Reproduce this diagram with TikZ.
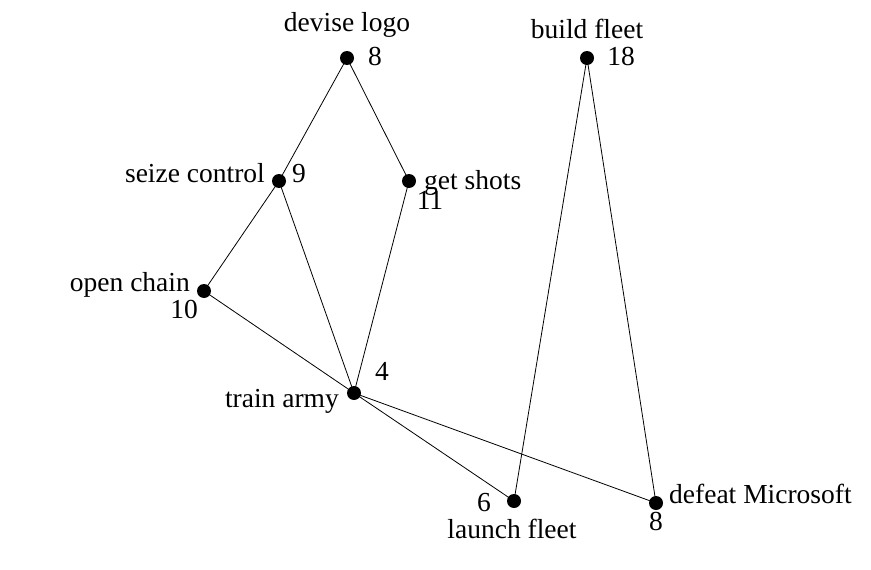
\documentclass[tikz,border=0pt]{standalone}
\usepackage{fontspec}
\setmainfont{Liberation Serif}
\begin{document}
\begin{tikzpicture}[x=1pt,y=-1pt,
  dot/.style={circle,fill=black,inner sep=0pt,minimum size=14pt},
  lbl/.style={inner sep=0pt,font=\fontsize{27.5}{30}\selectfont},
  edge/.style={draw=black,line width=0.8pt}]
\useasboundingbox (0,0) rectangle (871,570);
% dots
\node[dot] (dl) at (347,58) {};
\node[dot] (bf) at (587,58) {};
\node[dot] (sc) at (279,181) {};
\node[dot] (gs) at (409,181) {};
\node[dot] (oc) at (204,291) {};
\node[dot] (ta) at (354,393) {};
\node[dot] (lf) at (514,501) {};
\node[dot] (dm) at (656,503) {};
% edges
\draw[edge] (dl.center) -- (sc.center);
\draw[edge] (dl.center) -- (gs.center);
\draw[edge] (sc.center) -- (oc.center);
\draw[edge] (sc.center) -- (ta.center);
\draw[edge] (gs.center) -- (ta.center);
\draw[edge] (oc.center) -- (ta.center);
\draw[edge] (ta.center) -- (lf.center);
\draw[edge] (ta.center) -- (dm.center);
\draw[edge] (bf.center) -- (lf.center);
\draw[edge] (bf.center) -- (dm.center);
% labels
\node[lbl,anchor=base] (tdl) at (347,31) {devise logo};
\node[lbl,anchor=base] (ndl) at (375,65) {8};
\node[lbl,anchor=base] (tbf) at (587,38) {build fleet};
\node[lbl,anchor=base] (nbf) at (621,65) {18};
\node[lbl,anchor=base east] (tsc) at (265,182) {seize control};
\node[lbl,anchor=base] (nsc) at (299,182) {9};
\node[lbl,anchor=base west] (tgs) at (424,189) {get shots};
\node[lbl,anchor=base] (ngs) at (430,209) {11};
\node[lbl,anchor=base east] (toc) at (190,291) {open chain};
\node[lbl,anchor=base] (noc) at (184,318) {10};
\node[lbl,anchor=base] (nta) at (382,380) {4};
\node[lbl,anchor=base east] (tta) at (339,407) {train army};
\node[lbl,anchor=base] (nlf) at (484,511) {6};
\node[lbl,anchor=base] (tlf) at (512,538) {launch fleet};
\node[lbl,anchor=base west] (tdm) at (669,503) {defeat Microsoft};
\node[lbl,anchor=base] (ndm) at (656,530) {8};
\end{tikzpicture}
\end{document}
